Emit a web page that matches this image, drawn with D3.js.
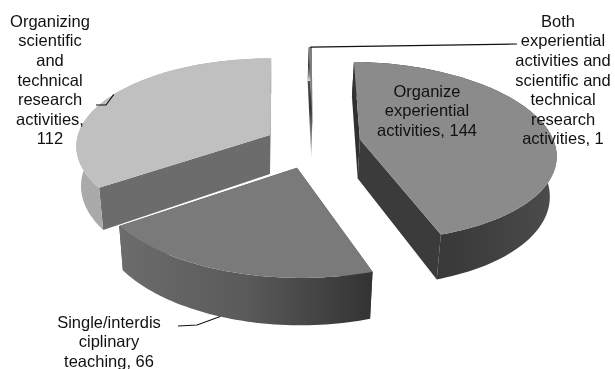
<!DOCTYPE html>
<html><head><meta charset="utf-8">
<style>html,body{margin:0;padding:0;background:#fff}svg{display:block;filter:blur(0.35px)}</style>
<script src="https://cdn.jsdelivr.net/npm/d3@7/dist/d3.min.js"></script>
</head><body>
<svg id="c" width="615" height="369"></svg>
<script>
// DATA
const categories = ["Organize experiential activities","Single/interdisciplinary teaching","Organizing scientific and technical research activities","Both experiential activities and scientific and technical research activities"];
const values = [144,66,112,1];
const labelLines = [
  ["Organize","experiential","activities, 144"],
  ["Single/interdis","ciplinary","teaching, 66"],
  ["Organizing","scientific","and","technical","research","activities,","112"],
  ["Both","experiential","activities and","scientific and","technical","research","activities, 1"]
];

// STYLE / LAYOUT
const topFill  = ["#8b8b8b","#7a7a7a","#c0c0c0","#808080"];
const endWall  = ["#3b3b3b","#444444","#6c6c6c","#bbbbbb"];
const startWall= ["#303030","#444444","#6c6c6c","#999999"];
const rimStops = [
  ["#333333","#3a3a3a","#4c4c4c"],
  ["#6c6c6c","#5a5a5a","#333333"],
  ["#ababab","#a4a4a4","#999999"],
  ["#888888","#888888","#888888"]];
const explode = [[0.465,0.05],[0.134,0.36],[0,0],[0.225,-0.17]];
const drawOrder = [2,3,0,1];
const labelPos = [[427,91],[109,322],[50,21],[563,21]];
const lineGap = 19.6;
const leaders = [null,[[178,326],[197,325]],[[96,105],[106,105]],[[517,44]]];
const leaderDepth = [0,1,0,0];
const leaderTurn = [0,2,2,0];
const rotation = 1.5*Math.PI/180;
const k=0.13, A=192, B=86.5, C=39, g=0.024, ox=270, oy=135;

const sx = d3.scaleLinear().domain([0,1]).range([ox,ox+A]);
const sy = d3.scaleLinear().domain([0,1]).range([oy,oy+B]);
function project(i,theta,r,z){
  const X = explode[i][0]+r*Math.sin(theta), Y = explode[i][1]-r*Math.cos(theta);
  const s = 1/(1-k*Y);
  return [sx(X*s*(1-g*z)), sy(Y*s)+C*z*s];
}
const arcs = d3.pie().sort(null).value(d=>d).startAngle(rotation).endAngle(rotation+2*Math.PI)(values);
const line = d3.line();
const svg = d3.select("#c");
const defs = svg.append("defs");
values.forEach((v,i)=>{
  const gr = defs.append("linearGradient").attr("id","rim"+i);
  rimStops[i].forEach((c,j)=>gr.append("stop").attr("offset",j/2).attr("stop-color",c));
});
const sl = defs.append("linearGradient").attr("id","sliver").attr("x1",0).attr("x2",0).attr("y1",0).attr("y2",1);
[["#707070",0],["#333333",0.55],["#999999",0.85],["#e4e4e4",1]].forEach(s=>sl.append("stop").attr("offset",s[1]).attr("stop-color",s[0]));

drawOrder.forEach(i=>{
  const a = arcs[i];
  const n = Math.max(4,Math.round((a.endAngle-a.startAngle)*40));
  const angles = d3.range(n+1).map(j=>a.startAngle+(a.endAngle-a.startAngle)*j/n);
  const grp = svg.append("g").attr("class","slice");
  const sliver = values[i]===d3.min(values);
  const wall = (th,fill)=>grp.append("path")
    .attr("d",line([project(i,th,0,0),project(i,th,1,0),project(i,th,1,1),project(i,th,0,1)])+"Z")
    .attr("fill",sliver?"url(#sliver)":fill);
  wall(a.startAngle,startWall[i]);
  wall(a.endAngle,endWall[i]);
  grp.append("path")
    .attr("d",line(angles.map(t=>project(i,t,1,0)).concat(angles.slice().reverse().map(t=>project(i,t,1,1))))+"Z")
    .attr("fill",sliver?"url(#sliver)":`url(#rim${i})`);
  grp.append("path")
    .attr("d",line([project(i,0,0,0)].concat(angles.map(t=>project(i,t,1,0))))+"Z")
    .attr("fill",topFill[i]);
});

// leaders
values.forEach((v,i)=>{
  if(!leaders[i]) return;
  const mid=(arcs[i].startAngle+arcs[i].endAngle)/2+leaderTurn[i]*Math.PI/180;
  const pts=leaders[i].concat([project(i,mid,1,leaderDepth[i])]);
  svg.append("path").attr("d",line(pts)).attr("fill","none").attr("stroke","#111").attr("stroke-width",1.1);
});
// labels
values.forEach((v,i)=>{
  const t = svg.append("text").attr("text-anchor","middle")
    .attr("font-family","'Liberation Sans',Arial,sans-serif").attr("font-size",16.5).attr("fill","#111");
  labelLines[i].forEach((ln,j)=>t.append("tspan").attr("x",labelPos[i][0]+(i===3&&j===0?-5:0))
    .attr("y",labelPos[i][1]+j*lineGap).attr("dy","0.35em").text(ln));
});
</script>
</body></html>
